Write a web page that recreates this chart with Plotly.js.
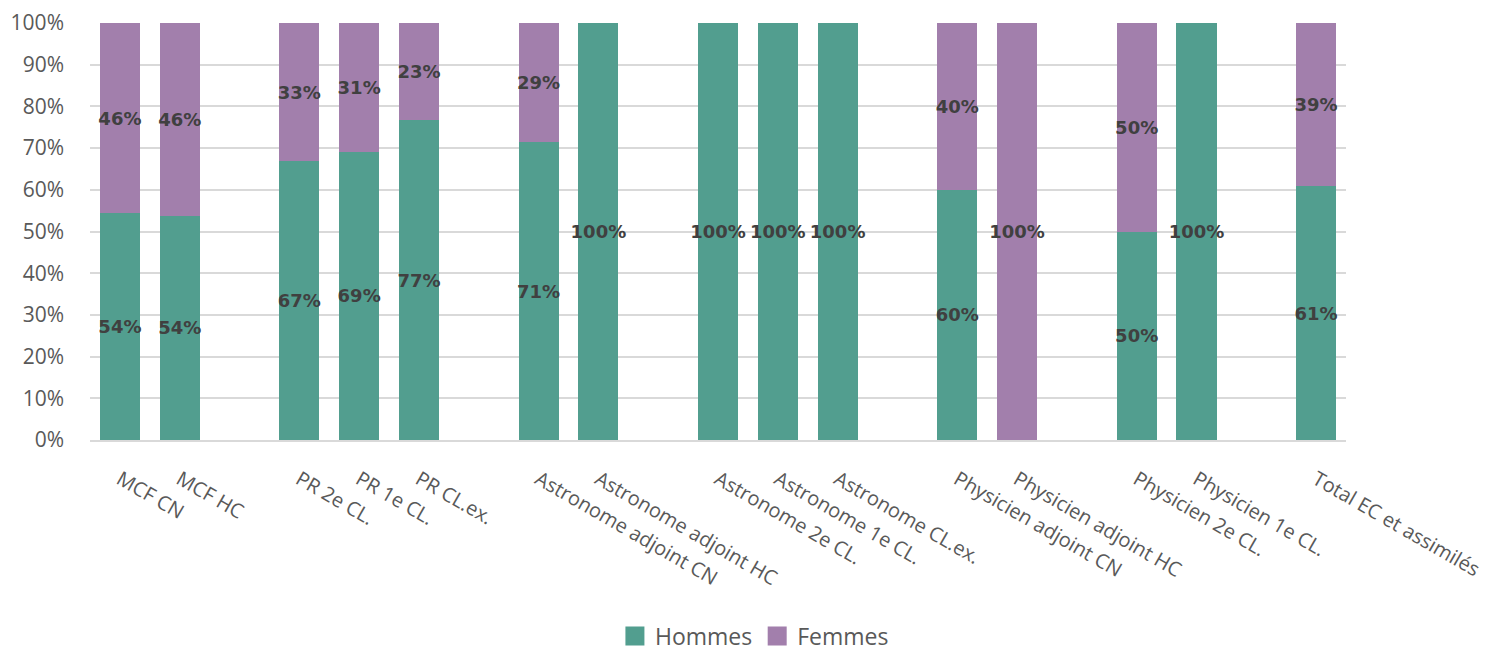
<!DOCTYPE html>
<html>
<head>
<meta charset="utf-8">
<script src="https://cdn.plot.ly/plotly-3.0.1.min.js"></script>
<style>html,body{margin:0;padding:0;background:#fff;}#chart{width:1497px;height:653px;}</style>
</head>
<body>
<div id="chart"></div>
<script>
// Categories (blank entries are the empty gaps between groups)
const categories = [
  "MCF CN", "MCF HC", " ",
  "PR 2e CL.", "PR 1e CL.", "PR CL.ex.", "  ",
  "Astronome adjoint CN", "Astronome adjoint HC", "   ",
  "Astronome 2e CL.", "Astronome 1e CL.", "Astronome CL.ex.", "    ",
  "Physicien adjoint CN", "Physicien adjoint HC", "     ",
  "Physicien 2e CL.", "Physicien 1e CL.", "      ",
  "Total EC et assimilés"
];
// Shares in percent
const hommes = [54.4, 53.8, null, 66.9, 69.1, 76.7, null, 71.4, 100, null, 100, 100, 100, null, 60, 0, null, 50, 100, null, 60.9];
const femmes = [45.6, 46.2, null, 33.1, 30.9, 23.3, null, 28.6, 0, null, 0, 0, 0, null, 40, 100, null, 50, 0, null, 39.1];

const seriesNames = ["Hommes", "Femmes"];
const colors = ["#529E8F", "#A27FAC"];

function labels(arr) {
  return arr.map(v => (v === null || v === 0) ? "" : Math.round(v) + "%");
}

const labelFont = {family: "DejaVu Sans", size: 18, color: "#404040", weight: "bold"};

const traces = [hommes, femmes].map((vals, i) => ({
  type: "bar",
  name: seriesNames[i],
  x: categories,
  y: vals,
  marker: {color: colors[i]},
  text: labels(vals),
  textposition: "inside",
  insidetextanchor: "middle",
  textangle: 0,
  textfont: labelFont,
  insidetextfont: labelFont,
  cliponaxis: false,
  showlegend: false,
  hoverinfo: "skip"
}));

// legend-only entries with larger square swatches
seriesNames.forEach((n, i) => {
  traces.push({
    type: "scatter",
    mode: "markers",
    name: n,
    x: [null],
    y: [null],
    marker: {symbol: "square", size: 16, color: colors[i], line: {color: colors[i], width: 3}},
    showlegend: true,
    hoverinfo: "skip"
  });
});

const layout = {
  width: 1497,
  height: 653,
  barmode: "stack",
  bargap: 0.33,
  margin: {l: 90, r: 151, t: 23, b: 213, autoexpand: false},
  paper_bgcolor: "#ffffff",
  plot_bgcolor: "#ffffff",
  uniformtext: {mode: "show", minsize: 18},
  font: {family: "Open Sans", color: "#595959"},
  xaxis: {
    type: "category",
    categoryorder: "array",
    categoryarray: categories,
    tickangle: 30,
    tickfont: {family: "Open Sans", size: 20, color: "#595959"},
    showline: true,
    linecolor: "#d9d9d9",
    linewidth: 2,
    showgrid: false,
    ticks: "",
    ticklabelstandoff: 18,
    automargin: false,
    fixedrange: true
  },
  yaxis: {
    range: [0, 100],
    tickmode: "linear",
    tick0: 0,
    dtick: 10,
    ticksuffix: "%",
    tickfont: {family: "Open Sans", size: 21, color: "#595959"},
    showgrid: true,
    gridcolor: "#d9d9d9",
    gridwidth: 2,
    zeroline: false,
    showline: false,
    ticks: "",
    ticklabelstandoff: 25,
    automargin: false,
    fixedrange: true
  },
  showlegend: true,
  legend: {
    orientation: "h",
    xref: "paper",
    yref: "paper",
    x: 0.529,
    xanchor: "center",
    y: -0.47,
    yanchor: "middle",
    font: {family: "Open Sans", size: 23, color: "#595959"},
    traceorder: "normal",
    itemsizing: "trace",
    itemwidth: 30
  }
};

Plotly.newPlot("chart", traces, layout, {displayModeBar: false, staticPlot: true});
</script>
</body>
</html>
